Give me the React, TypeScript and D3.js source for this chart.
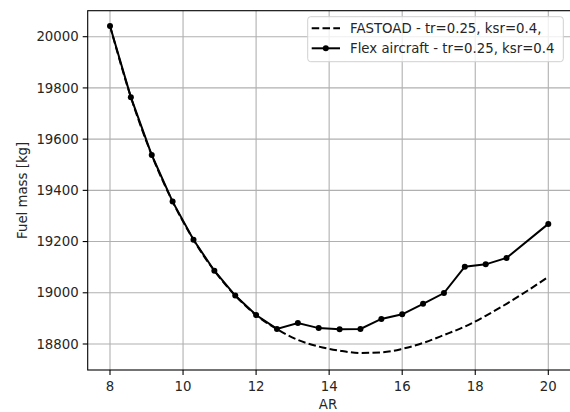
import React from "react";
import * as d3 from "d3";

const arValues = [8, 8.571, 9.143, 9.714, 10.286, 10.857, 11.429, 12, 12.571, 13.143, 13.714, 14.286, 14.857, 15.429, 16, 16.571, 17.143, 17.714, 18.286, 18.857, 19.429, 20];
const fastoadFuel = [20042, 19764, 19538, 19356, 19207, 19086, 18989, 18913, 18858, 18816, 18790, 18774, 18765, 18767, 18781, 18804, 18835, 18868, 18910, 18957, 19008, 19062];

const flexAR = [8, 8.571, 9.143, 9.714, 10.286, 10.857, 11.429, 12, 12.571, 13.143, 13.714, 14.286, 14.857, 15.429, 16, 16.571, 17.143, 17.714, 18.286, 18.857, 20];
const flexFuel = [20042, 19764, 19538, 19356, 19207, 19086, 18989, 18913, 18859, 18882, 18862, 18858, 18859, 18898, 18916, 18957, 18999, 19102, 19111, 19136, 19269];

const xTicks = [8, 10, 12, 14, 16, 18, 20];
const yTicks = [18800, 19000, 19200, 19400, 19600, 19800, 20000];

const legendLabels = ["FASTOAD - tr=0.25, ksr=0.4,", "Flex aircraft - tr=0.25, ksr=0.4"];

export default function App() {
  const W = 570, H = 412;
  const left = 87.7, top = 10.7, bottom = 370, right = 572;
  const x0 = d3.scaleLinear().domain([8, 20]).range([110, 548.3]);
  const y0 = d3.scaleLinear().domain([18800, 20000]).range([344, 36.7]);
  const x = d3.scaleLinear().domain([x0.invert(left), x0.invert(right)]).range([left, right]);
  const y = d3.scaleLinear().domain([y0.invert(bottom), y0.invert(top)]).range([bottom, top]);

  const line = d3.line<[number, number]>().x(d => x(d[0])).y(d => y(d[1]));
  const smooth = d3.line<[number, number]>().x(d => x(d[0])).y(d => y(d[1])).curve(d3.curveMonotoneX);
  const fastPts: [number, number][] = arValues.map((a, i) => [a, fastoadFuel[i]]);
  const flexPts: [number, number][] = flexAR.map((a, i) => [a, flexFuel[i]]);

  const font = "DejaVu Sans, sans-serif";
  const textColor = "#262626";
  const grid = "#b0b0b0";

  const lx = 307.7, ly = 16.7, lw = 255.6, lh = 45;

  return (
    <svg width={W} height={H} style={{ position: "absolute", left: 0, top: 0, background: "#fff" }} fontFamily={font}>
      <rect x={0} y={0} width={W} height={H} fill="#fff" />
      <defs>
        <clipPath id="plotclip">
          <rect x={left} y={top} width={right - left} height={bottom - top} />
        </clipPath>
      </defs>
      {xTicks.map(t => (
        <line key={"gx" + t} x1={x(t)} x2={x(t)} y1={top} y2={bottom} stroke={grid} strokeWidth={1.1} />
      ))}
      {yTicks.map(t => (
        <line key={"gy" + t} x1={left} x2={right} y1={y(t)} y2={y(t)} stroke={grid} strokeWidth={1.1} />
      ))}
      <g clipPath="url(#plotclip)">
        <path d={smooth(fastPts) || ""} fill="none" stroke="#000" strokeWidth={2} strokeDasharray="7.5,3.3" />
        <path d={line(flexPts) || ""} fill="none" stroke="#000" strokeWidth={2} />
        {flexPts.map((p, i) => (
          <circle key={"m" + i} cx={x(p[0])} cy={y(p[1])} r={3} fill="#000" />
        ))}
      </g>
      <rect x={left} y={top} width={right - left} height={bottom - top} fill="none" stroke="#000" strokeWidth={1.1} />
      {xTicks.map(t => (
        <g key={"tx" + t}>
          <line x1={x(t)} x2={x(t)} y1={bottom} y2={bottom + 5} stroke="#000" strokeWidth={1.1} />
          <text x={x(t)} y={bottom + 21} textAnchor="middle" fontSize={13.3} fill={textColor}>{t}</text>
        </g>
      ))}
      {yTicks.map(t => (
        <g key={"ty" + t}>
          <line x1={left - 5} x2={left} y1={y(t)} y2={y(t)} stroke="#000" strokeWidth={1.1} />
          <text x={left - 9} y={y(t)} dy="0.35em" textAnchor="end" fontSize={13.3} fill={textColor}>{t}</text>
        </g>
      ))}
      <text x={328} y={409} textAnchor="middle" fontSize={13.3} fill={textColor}>AR</text>
      <text transform={`translate(26.5,${(top + bottom) / 2}) rotate(-90)`} textAnchor="middle" fontSize={13.3} fill={textColor}>Fuel mass [kg]</text>
      <g>
        <rect x={lx} y={ly} width={lw} height={lh} rx={3} fill="#fff" fillOpacity={0.8} stroke="#d0d0d0" strokeWidth={1} />
        <line x1={311.7} x2={340} y1={28.3} y2={28.3} stroke="#000" strokeWidth={2} strokeDasharray="7.5,3.3" />
        <text x={350} y={28.3} dy="0.35em" fontSize={13.3} fill={textColor}>{legendLabels[0]}</text>
        <line x1={311.7} x2={340} y1={48.3} y2={48.3} stroke="#000" strokeWidth={2} />
        <circle cx={325.8} cy={48.3} r={3} fill="#000" />
        <text x={350} y={48.3} dy="0.35em" fontSize={13.3} fill={textColor}>{legendLabels[1]}</text>
      </g>
    </svg>
  );
}
